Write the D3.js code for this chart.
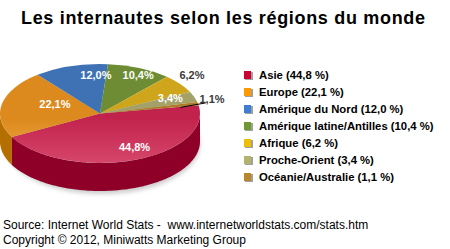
<!DOCTYPE html>
<html>
<head>
<meta charset="utf-8">
<script src="https://cdn.jsdelivr.net/npm/d3@7"></script>
<style>
  body { margin: 0; background: #fff; }
  text { font-family: "Liberation Sans", Arial, sans-serif; }
</style>
</head>
<body>
<div id="chart"></div>
<script>
// data
var regions = ["Asie", "Europe", "Amérique du Nord", "Amérique latine/Antilles", "Afrique", "Proche-Orient", "Océanie/Australie"];
var shares = [44.8, 22.1, 12.0, 10.4, 6.2, 3.4, 1.1];
var shareLabels = ["44,8", "22,1", "12,0", "10,4", "6,2", "3,4", "1,1"];

// colours
var legendColors = ["#cc0033", "#ff9900", "#3d7dd3", "#6e9b2f", "#f0be00", "#b3b36a", "#b8862d"];
var topDark = ["#c2234c", "#dc8a1e", "#3e72b4", "#6d8c33", "#cfa61b", "#a3a168", "#ad7c29"];
var topLight = ["#d6466b", "#f1a944", "#5086c6", "#7e9d43", "#dcb632", "#b1af78", "#bb8a35"];
var sideColors = ["#8e0028", "#b56e00", "#2c5a94", "#55701f", "#a88300", "#85834c", "#8a6218"];
// label placement (angle in degrees from 3 o'clock, radius factor)
var labelAngle = [63, 203, 267, 296, 320, 336, 345];
var labelRadius = [0.76, 0.49, 0.78, 0.87, 1.2, 0.77, 1.16];
var labelInside = [true, true, true, true, false, true, false];

var width = 450, height = 249;
var cx = 100, cy = 113.5, rx = 100, ry = 49.5, depth = 28;

var svg = d3.select("#chart").append("svg")
  .attr("width", width)
  .attr("height", height);

var defs = svg.append("defs");

svg.append("text")
  .attr("x", 21)
  .attr("y", 24)
  .attr("textLength", 404)
  .attr("lengthAdjust", "spacing")
  .style("font-size", "18px")
  .style("font-weight", "bold")
  .attr("fill", "#000")
  .text("Les internautes selon les régions du monde");

var pie = d3.pie()
  .sort(null)
  .startAngle(80.5 * Math.PI / 180)
  .endAngle((80.5 + 360) * Math.PI / 180);

var slices = pie(shares);

// parametric angle on the ellipse, 0 = 3 o'clock, clockwise
function t(a) { return a - Math.PI / 2; }
function ex(a, k) { return cx + k * rx * Math.cos(a); }
function ey(a, k) { return cy + k * ry * Math.sin(a); }

// soft shadow under the pie
var blur = defs.append("filter").attr("id", "blur").attr("x", "-20%").attr("y", "-50%").attr("width", "140%").attr("height", "200%");
blur.append("feGaussianBlur").attr("stdDeviation", 2);
svg.append("ellipse")
  .attr("cx", cx + 2)
  .attr("cy", cy + depth + 3)
  .attr("rx", rx - 2)
  .attr("ry", ry)
  .attr("fill", "#ccc")
  .attr("filter", "url(#blur)");

// side walls (front half only)
var sideLine = d3.line();
var side = svg.append("g");
slices.forEach(function(s, i) {
  [0, 2 * Math.PI, -2 * Math.PI].forEach(function(shift) {
    var a0 = Math.max(t(s.startAngle) - shift, 0);
    var a1 = Math.min(t(s.endAngle) - shift, Math.PI);
    if (a1 <= a0) return;
    var n = Math.max(2, Math.ceil((a1 - a0) / 0.02));
    var top = d3.range(n + 1).map(function(j) {
      var a = a0 + (a1 - a0) * j / n;
      return [ex(a, 1), ey(a, 1)];
    });
    var bottom = top.slice().reverse().map(function(p) { return [p[0], p[1] + depth]; });
    side.append("path")
      .attr("d", sideLine(top.concat(bottom)) + "Z")
      .attr("fill", sideColors[i]);
  });
});

// top faces
var arc = d3.arc().innerRadius(0).outerRadius(rx);
var topG = svg.append("g")
  .attr("transform", "translate(" + cx + "," + cy + ") scale(1," + (ry / rx) + ")");

slices.forEach(function(s, i) {
  var g = defs.append("linearGradient")
    .attr("id", "grad" + i)
    .attr("gradientUnits", "userSpaceOnUse")
    .attr("x1", 0).attr("y1", -rx)
    .attr("x2", 0).attr("y2", rx);
  g.append("stop").attr("offset", "0%").attr("stop-color", topDark[i]);
  g.append("stop").attr("offset", "55%").attr("stop-color", topDark[i]);
  g.append("stop").attr("offset", "100%").attr("stop-color", topLight[i]);
  topG.append("path")
    .attr("d", arc(s))
    .attr("fill", "url(#grad" + i + ")");
});

// leader line for the smallest slice
slices.forEach(function(s, i) {
  if (labelInside[i] || shares[i] > 3) return;
  var m = t((s.startAngle + s.endAngle) / 2);
  svg.append("line")
    .attr("x1", ex(m, 0.82)).attr("y1", ey(m, 0.82) + 2)
    .attr("x2", ex(m, 1.08)).attr("y2", ey(m, 1.08))
    .attr("stroke", "#000")
    .attr("stroke-width", 1);
});

// slice labels
slices.forEach(function(s, i) {
  var a = labelAngle[i] * Math.PI / 180;
  svg.append("text")
    .attr("x", ex(a, labelRadius[i]))
    .attr("y", ey(a, labelRadius[i]) + 4)
    .attr("text-anchor", "middle")
    .style("font-size", "11px")
    .style("font-weight", "bold")
    .attr("fill", labelInside[i] ? "#fff" : "#3a3a3a")
    .text(shareLabels[i] + "%");
});

// legend
var y = d3.scaleBand()
  .domain(regions)
  .range([67, 186]);

var legend = svg.append("g");
var item = legend.selectAll("g")
  .data(regions)
  .enter().append("g")
  .attr("transform", function(d) { return "translate(244," + y(d) + ")"; });

item.append("rect")
  .attr("x", 1).attr("y", 5)
  .attr("width", 8).attr("height", 8)
  .attr("fill", "#a0a0a0");
item.append("rect")
  .attr("x", 0).attr("y", 4)
  .attr("width", 7).attr("height", 8)
  .attr("fill", function(d, i) { return legendColors[i]; });
item.append("text")
  .attr("x", 15)
  .attr("y", 12)
  .style("font-size", "11.3px")
  .style("font-weight", "bold")
  .attr("fill", "#000")
  .text(function(d, i) { return d + " (" + shareLabels[i] + " %)"; });

// footer
svg.append("text")
  .attr("x", 3)
  .attr("y", 229)
  .attr("xml:space", "preserve")
  .style("white-space", "pre")
  .style("font-size", "12px")
  .attr("fill", "#000")
  .text("Source: Internet World Stats -  www.internetworldstats.com/stats.htm");

svg.append("text")
  .attr("x", 3)
  .attr("y", 244)
  .style("font-size", "12px")
  .attr("fill", "#000")
  .text("Copyright © 2012, Miniwatts Marketing Group");
</script>
</body>
</html>
